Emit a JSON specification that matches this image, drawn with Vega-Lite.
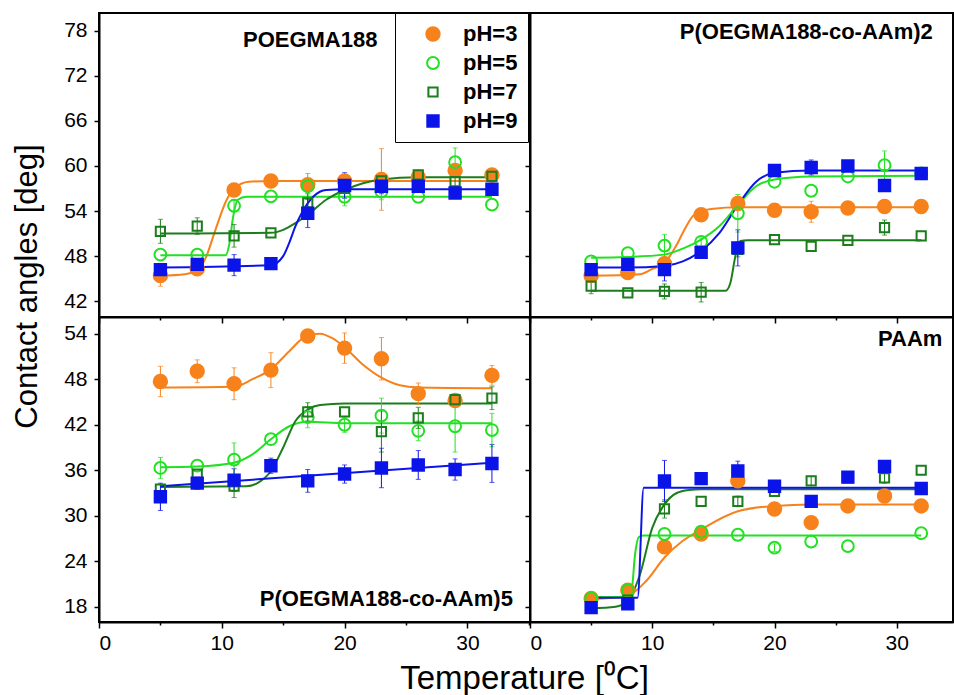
{
  "$schema": "https://vega.github.io/schema/vega-lite/v6.json",
  "padding": {"left": 10, "top": 12, "right": 0, "bottom": 0},
  "background": "white",
  "bounds": "flush",
  "align": "each",
  "spacing": 0,
  "columns": 2,
  "datasets": {
    "pts": [
      {"panel":"A","pH":"pH=3","T":5,"angle":45.4,"err":1.4},
      {"panel":"A","pH":"pH=3","T":8,"angle":46.3,"err":0},
      {"panel":"A","pH":"pH=3","T":11,"angle":56.8,"err":0},
      {"panel":"A","pH":"pH=3","T":14,"angle":58.0,"err":0},
      {"panel":"A","pH":"pH=3","T":17,"angle":57.5,"err":0},
      {"panel":"A","pH":"pH=3","T":20,"angle":58.0,"err":0},
      {"panel":"A","pH":"pH=3","T":23,"angle":58.2,"err":4.1},
      {"panel":"A","pH":"pH=3","T":26,"angle":58.5,"err":0},
      {"panel":"A","pH":"pH=3","T":29,"angle":59.4,"err":0.8},
      {"panel":"A","pH":"pH=3","T":32,"angle":58.8,"err":0},
      {"panel":"A","pH":"pH=5","T":5,"angle":48.2,"err":0},
      {"panel":"A","pH":"pH=5","T":8,"angle":48.2,"err":0},
      {"panel":"A","pH":"pH=5","T":11,"angle":54.7,"err":0.8},
      {"panel":"A","pH":"pH=5","T":14,"angle":55.95,"err":0},
      {"panel":"A","pH":"pH=5","T":17,"angle":57.3,"err":1.7},
      {"panel":"A","pH":"pH=5","T":20,"angle":55.9,"err":1.2},
      {"panel":"A","pH":"pH=5","T":23,"angle":56.6,"err":1.1},
      {"panel":"A","pH":"pH=5","T":26,"angle":55.9,"err":0},
      {"panel":"A","pH":"pH=5","T":29,"angle":60.5,"err":1.9},
      {"panel":"A","pH":"pH=5","T":32,"angle":54.85,"err":0},
      {"panel":"A","pH":"pH=7","T":5,"angle":51.3,"err":1.6},
      {"panel":"A","pH":"pH=7","T":8,"angle":52.0,"err":1.1},
      {"panel":"A","pH":"pH=7","T":11,"angle":50.7,"err":1.5},
      {"panel":"A","pH":"pH=7","T":14,"angle":51.1,"err":0},
      {"panel":"A","pH":"pH=7","T":17,"angle":55.1,"err":1.2},
      {"panel":"A","pH":"pH=7","T":20,"angle":57.0,"err":0},
      {"panel":"A","pH":"pH=7","T":23,"angle":58.0,"err":1.1},
      {"panel":"A","pH":"pH=7","T":26,"angle":58.8,"err":0},
      {"panel":"A","pH":"pH=7","T":29,"angle":57.9,"err":1.0},
      {"panel":"A","pH":"pH=7","T":32,"angle":58.6,"err":0},
      {"panel":"A","pH":"pH=9","T":5,"angle":46.2,"err":0},
      {"panel":"A","pH":"pH=9","T":8,"angle":46.9,"err":0},
      {"panel":"A","pH":"pH=9","T":11,"angle":46.8,"err":1.4},
      {"panel":"A","pH":"pH=9","T":14,"angle":47.0,"err":0},
      {"panel":"A","pH":"pH=9","T":17,"angle":53.7,"err":1.9},
      {"panel":"A","pH":"pH=9","T":20,"angle":57.4,"err":1.7},
      {"panel":"A","pH":"pH=9","T":23,"angle":57.3,"err":1.0},
      {"panel":"A","pH":"pH=9","T":26,"angle":57.3,"err":0},
      {"panel":"A","pH":"pH=9","T":29,"angle":56.4,"err":0.6},
      {"panel":"A","pH":"pH=9","T":32,"angle":56.9,"err":0},

      {"panel":"B","pH":"pH=3","T":5,"angle":45.4,"err":0.6},
      {"panel":"B","pH":"pH=3","T":8,"angle":45.8,"err":0.5},
      {"panel":"B","pH":"pH=3","T":11,"angle":47.0,"err":0},
      {"panel":"B","pH":"pH=3","T":14,"angle":53.5,"err":0},
      {"panel":"B","pH":"pH=3","T":17,"angle":55.0,"err":0.6},
      {"panel":"B","pH":"pH=3","T":20,"angle":54.1,"err":0.6},
      {"panel":"B","pH":"pH=3","T":23,"angle":53.9,"err":1.4},
      {"panel":"B","pH":"pH=3","T":26,"angle":54.4,"err":0},
      {"panel":"B","pH":"pH=3","T":29,"angle":54.6,"err":0},
      {"panel":"B","pH":"pH=3","T":32,"angle":54.6,"err":0},
      {"panel":"B","pH":"pH=5","T":5,"angle":47.3,"err":0},
      {"panel":"B","pH":"pH=5","T":8,"angle":48.4,"err":0},
      {"panel":"B","pH":"pH=5","T":11,"angle":49.4,"err":1.5},
      {"panel":"B","pH":"pH=5","T":14,"angle":49.9,"err":0.5},
      {"panel":"B","pH":"pH=5","T":17,"angle":53.7,"err":2.5},
      {"panel":"B","pH":"pH=5","T":20,"angle":57.9,"err":0},
      {"panel":"B","pH":"pH=5","T":23,"angle":56.7,"err":0},
      {"panel":"B","pH":"pH=5","T":26,"angle":58.6,"err":0},
      {"panel":"B","pH":"pH=5","T":29,"angle":60.1,"err":1.9},
      {"panel":"B","pH":"pH=5","T":32,"angle":59.0,"err":0},
      {"panel":"B","pH":"pH=7","T":5,"angle":44.0,"err":1.0},
      {"panel":"B","pH":"pH=7","T":8,"angle":43.1,"err":0},
      {"panel":"B","pH":"pH=7","T":11,"angle":43.3,"err":1.0},
      {"panel":"B","pH":"pH=7","T":14,"angle":43.2,"err":1.3},
      {"panel":"B","pH":"pH=7","T":17,"angle":48.9,"err":1.0},
      {"panel":"B","pH":"pH=7","T":20,"angle":50.2,"err":0},
      {"panel":"B","pH":"pH=7","T":23,"angle":49.3,"err":0},
      {"panel":"B","pH":"pH=7","T":26,"angle":50.1,"err":0},
      {"panel":"B","pH":"pH=7","T":29,"angle":51.8,"err":1.0},
      {"panel":"B","pH":"pH=7","T":32,"angle":50.7,"err":0},
      {"panel":"B","pH":"pH=9","T":5,"angle":46.2,"err":0.7},
      {"panel":"B","pH":"pH=9","T":8,"angle":46.9,"err":0},
      {"panel":"B","pH":"pH=9","T":11,"angle":46.2,"err":1.5},
      {"panel":"B","pH":"pH=9","T":14,"angle":48.5,"err":0},
      {"panel":"B","pH":"pH=9","T":17,"angle":49.1,"err":2.4},
      {"panel":"B","pH":"pH=9","T":20,"angle":59.4,"err":0},
      {"panel":"B","pH":"pH=9","T":23,"angle":59.8,"err":1.0},
      {"panel":"B","pH":"pH=9","T":26,"angle":60.0,"err":0},
      {"panel":"B","pH":"pH=9","T":29,"angle":57.4,"err":0},
      {"panel":"B","pH":"pH=9","T":32,"angle":59.0,"err":0},

      {"panel":"C","pH":"pH=3","T":5,"angle":47.7,"err":2.0},
      {"panel":"C","pH":"pH=3","T":8,"angle":49.05,"err":1.5},
      {"panel":"C","pH":"pH=3","T":11,"angle":47.4,"err":2.1},
      {"panel":"C","pH":"pH=3","T":14,"angle":49.2,"err":2.3},
      {"panel":"C","pH":"pH=3","T":17,"angle":53.7,"err":0.3},
      {"panel":"C","pH":"pH=3","T":20,"angle":52.1,"err":2.0},
      {"panel":"C","pH":"pH=3","T":23,"angle":50.7,"err":2.8},
      {"panel":"C","pH":"pH=3","T":26,"angle":46.1,"err":1.4},
      {"panel":"C","pH":"pH=3","T":29,"angle":45.2,"err":0},
      {"panel":"C","pH":"pH=3","T":32,"angle":48.5,"err":1.3},
      {"panel":"C","pH":"pH=5","T":5,"angle":36.3,"err":1.4},
      {"panel":"C","pH":"pH=5","T":8,"angle":36.6,"err":0},
      {"panel":"C","pH":"pH=5","T":11,"angle":37.4,"err":2.2},
      {"panel":"C","pH":"pH=5","T":14,"angle":40.1,"err":0},
      {"panel":"C","pH":"pH=5","T":17,"angle":43.0,"err":1.4},
      {"panel":"C","pH":"pH=5","T":20,"angle":42.0,"err":1.0},
      {"panel":"C","pH":"pH=5","T":23,"angle":43.2,"err":2.3},
      {"panel":"C","pH":"pH=5","T":26,"angle":41.2,"err":1.3},
      {"panel":"C","pH":"pH=5","T":29,"angle":41.8,"err":3.4},
      {"panel":"C","pH":"pH=5","T":32,"angle":41.3,"err":2.2},
      {"panel":"C","pH":"pH=7","T":5,"angle":33.5,"err":0},
      {"panel":"C","pH":"pH=7","T":8,"angle":35.5,"err":0},
      {"panel":"C","pH":"pH=7","T":11,"angle":33.9,"err":1.5},
      {"panel":"C","pH":"pH=7","T":14,"angle":36.5,"err":0},
      {"panel":"C","pH":"pH=7","T":17,"angle":43.7,"err":1.2},
      {"panel":"C","pH":"pH=7","T":20,"angle":43.7,"err":0},
      {"panel":"C","pH":"pH=7","T":23,"angle":41.1,"err":2.7},
      {"panel":"C","pH":"pH=7","T":26,"angle":42.9,"err":1.4},
      {"panel":"C","pH":"pH=7","T":29,"angle":45.3,"err":0},
      {"panel":"C","pH":"pH=7","T":32,"angle":45.5,"err":1.5},
      {"panel":"C","pH":"pH=9","T":5,"angle":32.5,"err":1.8},
      {"panel":"C","pH":"pH=9","T":8,"angle":34.3,"err":0.8},
      {"panel":"C","pH":"pH=9","T":11,"angle":34.7,"err":1.5},
      {"panel":"C","pH":"pH=9","T":14,"angle":36.6,"err":1.0},
      {"panel":"C","pH":"pH=9","T":17,"angle":34.6,"err":1.5},
      {"panel":"C","pH":"pH=9","T":20,"angle":35.5,"err":1.2},
      {"panel":"C","pH":"pH=9","T":23,"angle":36.3,"err":2.6},
      {"panel":"C","pH":"pH=9","T":26,"angle":36.7,"err":1.9},
      {"panel":"C","pH":"pH=9","T":29,"angle":36.1,"err":1.4},
      {"panel":"C","pH":"pH=9","T":32,"angle":36.9,"err":2.5},

      {"panel":"D","pH":"pH=3","T":5,"angle":19.1,"err":0},
      {"panel":"D","pH":"pH=3","T":8,"angle":20.2,"err":0},
      {"panel":"D","pH":"pH=3","T":11,"angle":25.9,"err":0},
      {"panel":"D","pH":"pH=3","T":14,"angle":27.6,"err":0},
      {"panel":"D","pH":"pH=3","T":17,"angle":34.6,"err":0},
      {"panel":"D","pH":"pH=3","T":20,"angle":30.9,"err":0},
      {"panel":"D","pH":"pH=3","T":23,"angle":29.1,"err":0},
      {"panel":"D","pH":"pH=3","T":26,"angle":31.3,"err":0},
      {"panel":"D","pH":"pH=3","T":29,"angle":32.6,"err":0},
      {"panel":"D","pH":"pH=3","T":32,"angle":31.3,"err":0},
      {"panel":"D","pH":"pH=5","T":5,"angle":19.1,"err":0},
      {"panel":"D","pH":"pH=5","T":8,"angle":20.2,"err":0},
      {"panel":"D","pH":"pH=5","T":11,"angle":27.6,"err":0},
      {"panel":"D","pH":"pH=5","T":14,"angle":27.9,"err":0},
      {"panel":"D","pH":"pH=5","T":17,"angle":27.5,"err":0},
      {"panel":"D","pH":"pH=5","T":20,"angle":25.8,"err":0.5},
      {"panel":"D","pH":"pH=5","T":23,"angle":26.6,"err":0},
      {"panel":"D","pH":"pH=5","T":26,"angle":26.0,"err":0},
      {"panel":"D","pH":"pH=5","T":32,"angle":27.7,"err":0},
      {"panel":"D","pH":"pH=7","T":5,"angle":17.8,"err":0},
      {"panel":"D","pH":"pH=7","T":8,"angle":18.9,"err":0},
      {"panel":"D","pH":"pH=7","T":11,"angle":30.9,"err":1.2},
      {"panel":"D","pH":"pH=7","T":14,"angle":31.9,"err":0},
      {"panel":"D","pH":"pH=7","T":17,"angle":31.9,"err":0.7},
      {"panel":"D","pH":"pH=7","T":20,"angle":33.2,"err":0},
      {"panel":"D","pH":"pH=7","T":23,"angle":34.6,"err":0.6},
      {"panel":"D","pH":"pH=7","T":26,"angle":35.0,"err":0},
      {"panel":"D","pH":"pH=7","T":29,"angle":35.0,"err":0.7},
      {"panel":"D","pH":"pH=7","T":32,"angle":36.0,"err":0},
      {"panel":"D","pH":"pH=9","T":5,"angle":17.9,"err":0},
      {"panel":"D","pH":"pH=9","T":8,"angle":18.4,"err":0},
      {"panel":"D","pH":"pH=9","T":11,"angle":34.6,"err":2.7},
      {"panel":"D","pH":"pH=9","T":14,"angle":34.9,"err":0},
      {"panel":"D","pH":"pH=9","T":17,"angle":35.9,"err":1.3},
      {"panel":"D","pH":"pH=9","T":20,"angle":33.9,"err":0},
      {"panel":"D","pH":"pH=9","T":23,"angle":31.9,"err":0},
      {"panel":"D","pH":"pH=9","T":26,"angle":35.1,"err":0},
      {"panel":"D","pH":"pH=9","T":29,"angle":36.5,"err":0},
      {"panel":"D","pH":"pH=9","T":32,"angle":33.6,"err":0}
    ],
    "fit": [
      {"panel":"A","pH":"pH=3","T":5,"angle":45.4},{"panel":"A","pH":"pH=3","T":7,"angle":45.6},{"panel":"A","pH":"pH=3","T":8,"angle":46.1},{"panel":"A","pH":"pH=3","T":8.7,"angle":47.8},{"panel":"A","pH":"pH=3","T":9.4,"angle":51.1},{"panel":"A","pH":"pH=3","T":10.4,"angle":55.5},{"panel":"A","pH":"pH=3","T":11,"angle":57.0},{"panel":"A","pH":"pH=3","T":12.2,"angle":57.9},{"panel":"A","pH":"pH=3","T":14,"angle":58.0},{"panel":"A","pH":"pH=3","T":32,"angle":58.0},
      {"panel":"A","pH":"pH=5","T":5,"angle":48.1},{"panel":"A","pH":"pH=5","T":10.3,"angle":48.1},{"panel":"A","pH":"pH=5","T":10.6,"angle":49.5},{"panel":"A","pH":"pH=5","T":10.9,"angle":53.0},{"panel":"A","pH":"pH=5","T":11.3,"angle":55.5},{"panel":"A","pH":"pH=5","T":12,"angle":55.9},{"panel":"A","pH":"pH=5","T":32,"angle":55.9},
      {"panel":"A","pH":"pH=7","T":5,"angle":51.0},{"panel":"A","pH":"pH=7","T":14,"angle":51.1},{"panel":"A","pH":"pH=7","T":15,"angle":51.5},{"panel":"A","pH":"pH=7","T":16,"angle":52.4},{"panel":"A","pH":"pH=7","T":17,"angle":53.5},{"panel":"A","pH":"pH=7","T":18.5,"angle":55.5},{"panel":"A","pH":"pH=7","T":20,"angle":56.8},{"panel":"A","pH":"pH=7","T":21.5,"angle":57.7},{"panel":"A","pH":"pH=7","T":23,"angle":58.2},{"panel":"A","pH":"pH=7","T":26,"angle":58.5},{"panel":"A","pH":"pH=7","T":32,"angle":58.5},
      {"panel":"A","pH":"pH=9","T":5,"angle":46.5},{"panel":"A","pH":"pH=9","T":14,"angle":46.8},{"panel":"A","pH":"pH=9","T":15,"angle":48.0},{"panel":"A","pH":"pH=9","T":15.5,"angle":49.8},{"panel":"A","pH":"pH=9","T":16,"angle":52.0},{"panel":"A","pH":"pH=9","T":16.5,"angle":53.7},{"panel":"A","pH":"pH=9","T":17.5,"angle":56.0},{"panel":"A","pH":"pH=9","T":18.5,"angle":56.8},{"panel":"A","pH":"pH=9","T":20,"angle":56.9},{"panel":"A","pH":"pH=9","T":32,"angle":56.9},

      {"panel":"B","pH":"pH=3","T":5,"angle":45.4},{"panel":"B","pH":"pH=3","T":9,"angle":45.6},{"panel":"B","pH":"pH=3","T":10,"angle":46.3},{"panel":"B","pH":"pH=3","T":11,"angle":47.1},{"panel":"B","pH":"pH=3","T":12,"angle":49.5},{"panel":"B","pH":"pH=3","T":12.5,"angle":51.1},{"panel":"B","pH":"pH=3","T":13.3,"angle":53.3},{"panel":"B","pH":"pH=3","T":14,"angle":54.0},{"panel":"B","pH":"pH=3","T":15,"angle":54.3},{"panel":"B","pH":"pH=3","T":17,"angle":54.5},{"panel":"B","pH":"pH=3","T":32,"angle":54.5},
      {"panel":"B","pH":"pH=5","T":5,"angle":47.8},{"panel":"B","pH":"pH=5","T":8,"angle":47.9},{"panel":"B","pH":"pH=5","T":11,"angle":48.2},{"panel":"B","pH":"pH=5","T":12.5,"angle":49.0},{"panel":"B","pH":"pH=5","T":14,"angle":50.2},{"panel":"B","pH":"pH=5","T":15.5,"angle":52.0},{"panel":"B","pH":"pH=5","T":17,"angle":54.8},{"panel":"B","pH":"pH=5","T":18.5,"angle":57.3},{"panel":"B","pH":"pH=5","T":20,"angle":58.2},{"panel":"B","pH":"pH=5","T":23,"angle":58.6},{"panel":"B","pH":"pH=5","T":32,"angle":58.7},
      {"panel":"B","pH":"pH=7","T":5,"angle":43.4},{"panel":"B","pH":"pH=7","T":16,"angle":43.4},{"panel":"B","pH":"pH=7","T":16.4,"angle":44.5},{"panel":"B","pH":"pH=7","T":16.8,"angle":48.0},{"panel":"B","pH":"pH=7","T":17.2,"angle":50.0},{"panel":"B","pH":"pH=7","T":17.8,"angle":50.1},{"panel":"B","pH":"pH=7","T":32,"angle":50.1},
      {"panel":"B","pH":"pH=9","T":5,"angle":46.5},{"panel":"B","pH":"pH=9","T":8,"angle":46.5},{"panel":"B","pH":"pH=9","T":11,"angle":46.7},{"panel":"B","pH":"pH=9","T":12.5,"angle":47.3},{"panel":"B","pH":"pH=9","T":14,"angle":48.7},{"panel":"B","pH":"pH=9","T":15.5,"angle":51.1},{"panel":"B","pH":"pH=9","T":17,"angle":54.8},{"panel":"B","pH":"pH=9","T":18.5,"angle":57.9},{"panel":"B","pH":"pH=9","T":20,"angle":59.1},{"panel":"B","pH":"pH=9","T":23,"angle":59.4},{"panel":"B","pH":"pH=9","T":32,"angle":59.4},

      {"panel":"C","pH":"pH=3","T":5,"angle":46.9},{"panel":"C","pH":"pH=3","T":11,"angle":47.0},{"panel":"C","pH":"pH=3","T":12.5,"angle":48.0},{"panel":"C","pH":"pH=3","T":14,"angle":49.3},{"panel":"C","pH":"pH=3","T":15.5,"angle":51.7},{"panel":"C","pH":"pH=3","T":17,"angle":53.8},{"panel":"C","pH":"pH=3","T":18,"angle":54.0},{"panel":"C","pH":"pH=3","T":19,"angle":53.4},{"panel":"C","pH":"pH=3","T":20,"angle":52.2},{"panel":"C","pH":"pH=3","T":21.5,"angle":49.9},{"panel":"C","pH":"pH=3","T":23,"angle":48.2},{"panel":"C","pH":"pH=3","T":24.5,"angle":47.2},{"panel":"C","pH":"pH=3","T":26,"angle":46.9},{"panel":"C","pH":"pH=3","T":32,"angle":46.8},
      {"panel":"C","pH":"pH=5","T":5,"angle":36.4},{"panel":"C","pH":"pH=5","T":8,"angle":36.5},{"panel":"C","pH":"pH=5","T":11,"angle":37.0},{"panel":"C","pH":"pH=5","T":12.5,"angle":38.1},{"panel":"C","pH":"pH=5","T":14,"angle":40.1},{"panel":"C","pH":"pH=5","T":15.5,"angle":41.8},{"panel":"C","pH":"pH=5","T":17,"angle":42.4},{"panel":"C","pH":"pH=5","T":20,"angle":42.2},{"panel":"C","pH":"pH=5","T":32,"angle":42.2},
      {"panel":"C","pH":"pH=7","T":5,"angle":33.8},{"panel":"C","pH":"pH=7","T":12,"angle":33.9},{"panel":"C","pH":"pH=7","T":13,"angle":34.4},{"panel":"C","pH":"pH=7","T":14,"angle":35.9},{"panel":"C","pH":"pH=7","T":15,"angle":39.0},{"panel":"C","pH":"pH=7","T":16,"angle":42.5},{"panel":"C","pH":"pH=7","T":17,"angle":44.0},{"panel":"C","pH":"pH=7","T":18,"angle":44.6},{"panel":"C","pH":"pH=7","T":20,"angle":44.8},{"panel":"C","pH":"pH=7","T":32,"angle":44.8},
      {"panel":"C","pH":"pH=9","T":5,"angle":33.9},{"panel":"C","pH":"pH=9","T":32,"angle":37.0},

      {"panel":"D","pH":"pH=3","T":5,"angle":19.0},{"panel":"D","pH":"pH=3","T":8,"angle":19.5},{"panel":"D","pH":"pH=3","T":9.5,"angle":21.4},{"panel":"D","pH":"pH=3","T":11,"angle":24.5},{"panel":"D","pH":"pH=3","T":12.5,"angle":26.7},{"panel":"D","pH":"pH=3","T":14,"angle":28.2},{"panel":"D","pH":"pH=3","T":17,"angle":30.6},{"panel":"D","pH":"pH=3","T":20,"angle":31.3},{"panel":"D","pH":"pH=3","T":23,"angle":31.5},{"panel":"D","pH":"pH=3","T":32,"angle":31.5},
      {"panel":"D","pH":"pH=5","T":5,"angle":19.3},{"panel":"D","pH":"pH=5","T":8,"angle":19.3},{"panel":"D","pH":"pH=5","T":8.3,"angle":20.0},{"panel":"D","pH":"pH=5","T":8.6,"angle":25.0},{"panel":"D","pH":"pH=5","T":8.9,"angle":27.2},{"panel":"D","pH":"pH=5","T":9.3,"angle":27.4},{"panel":"D","pH":"pH=5","T":32,"angle":27.4},
      {"panel":"D","pH":"pH=7","T":5,"angle":17.8},{"panel":"D","pH":"pH=7","T":7,"angle":18.0},{"panel":"D","pH":"pH=7","T":8,"angle":18.8},{"panel":"D","pH":"pH=7","T":9,"angle":22.3},{"panel":"D","pH":"pH=7","T":10,"angle":28.4},{"panel":"D","pH":"pH=7","T":11,"angle":31.5},{"panel":"D","pH":"pH=7","T":12,"angle":33.0},{"panel":"D","pH":"pH=7","T":13,"angle":33.4},{"panel":"D","pH":"pH=7","T":14,"angle":33.5},{"panel":"D","pH":"pH=7","T":32,"angle":33.5},
      {"panel":"D","pH":"pH=9","T":5,"angle":19.2},{"panel":"D","pH":"pH=9","T":8.8,"angle":19.2},{"panel":"D","pH":"pH=9","T":9.3,"angle":33.7},{"panel":"D","pH":"pH=9","T":32,"angle":33.7}
    ]
  },
  "concat": [
    {
      "width": 431, "height": 304,
      "layer": [
        {"data": {"name": "fit"}, "transform": [{"filter": "datum.panel === 'A'"}],
         "mark": {"type": "line", "interpolate": "monotone", "strokeWidth": 2},
         "encoding": {
           "x": {"field": "T", "type": "quantitative", "scale": {"domain": [0, 35.1], "nice": false, "zero": false},
                 "axis": {"values": [0,5,10,15,20,25,30,35], "labels": false, "title": null,
                          "tickSize": {"condition": {"test": "datum.value % 10 === 0", "value": 6}, "value": 3}}},
           "y": {"field": "angle", "type": "quantitative", "title": "Contact angles [deg]", "scale": {"domain": [39.9, 80.35], "nice": false, "zero": false},
                 "axis": {"values": [42,45,48,51,54,57,60,63,66,69,72,75,78],
                          "labelExpr": "datum.value % 6 === 0 ? datum.label : ''",
                          "tickSize": {"condition": {"test": "datum.value % 6 === 0", "value": 5}, "value": 3},
                          "title": "Contact angles [deg]", "titleX": -63, "titleY": 273, "titleAlign": "center", "titleBaseline": "alphabetic", "titleAngle": -90}},
           "color": {"field": "pH", "type": "nominal", "legend": null, "scale": {"domain": ["pH=9","pH=7","pH=5","pH=3"], "range": ["#0B14E8","#1B7D1B","#22E022","#F7821B"]}}}},
        {"data": {"name": "pts"}, "transform": [{"filter": "datum.panel === 'A' && datum.err > 0"}],
         "mark": {"type": "errorbar", "ticks": true, "thickness": 1},
         "encoding": {"x": {"field": "T", "type": "quantitative", "title": null}, "y": {"field": "angle", "type": "quantitative", "title": "Contact angles [deg]"},
                      "yError": {"field": "err"}, "color": {"field": "pH", "type": "nominal", "legend": null}}},
        {"data": {"name": "pts"}, "transform": [{"filter": "datum.panel === 'A'"}],
         "mark": {"type": "point", "strokeWidth": 2, "opacity": 1},
         "encoding": {
           "x": {"field": "T", "type": "quantitative", "title": null}, "y": {"field": "angle", "type": "quantitative", "title": "Contact angles [deg]"},
           "shape": {"field": "pH", "type": "nominal", "legend": {"title": null}, "scale": {"domain": ["pH=3","pH=5","pH=7","pH=9"], "range": ["circle","circle","square","square"]}},
           "stroke": {"field": "pH", "type": "nominal", "legend": {"title": null}, "scale": {"domain": ["pH=3","pH=5","pH=7","pH=9"], "range": ["#F7821B","#22E022","#1B7D1B","#0B14E8"]}},
           "fill": {"field": "pH", "type": "nominal", "legend": {"title": null}, "scale": {"domain": ["pH=3","pH=5","pH=7","pH=9"], "range": ["#F7821B","transparent","transparent","#0B14E8"]}},
           "size": {"field": "pH", "type": "nominal", "legend": {"title": null}, "scale": {"type": "ordinal", "domain": ["pH=3","pH=5","pH=7","pH=9"], "range": [180, 140, 85, 130]}}}},
        {"data": {"values": [{"label": "POEGMA188"}]},
         "mark": {"type": "text", "font": "Liberation Sans", "fontSize": 22, "fontWeight": "bold", "align": "center", "baseline": "middle", "fill": "black"},
         "encoding": {"x": {"datum": 17.2}, "y": {"datum": 76.7}, "text": {"field": "label", "type": "nominal"}}}
      ]
    },
    {
      "width": 423, "height": 304,
      "layer": [
        {"data": {"name": "fit"}, "transform": [{"filter": "datum.panel === 'B'"}],
         "mark": {"type": "line", "interpolate": "monotone", "strokeWidth": 2},
         "encoding": {
           "x": {"field": "T", "type": "quantitative", "scale": {"domain": [0, 34.6], "nice": false, "zero": false},
                 "axis": {"values": [0,5,10,15,20,25,30], "labels": false, "title": null,
                          "tickSize": {"condition": {"test": "datum.value % 10 === 0", "value": 6}, "value": 3}}},
           "y": {"field": "angle", "type": "quantitative", "scale": {"domain": [39.9, 80.35], "nice": false, "zero": false},
                 "axis": {"values": [42,45,48,51,54,57,60,63,66,69,72,75,78], "labels": false, "title": null,
                          "tickSize": {"condition": {"test": "datum.value % 6 === 0", "value": 5}, "value": 3}}},
           "color": {"field": "pH", "type": "nominal", "legend": null, "scale": {"domain": ["pH=9","pH=7","pH=5","pH=3"], "range": ["#0B14E8","#1B7D1B","#22E022","#F7821B"]}}}},
        {"data": {"name": "pts"}, "transform": [{"filter": "datum.panel === 'B' && datum.err > 0"}],
         "mark": {"type": "errorbar", "ticks": true, "thickness": 1},
         "encoding": {"x": {"field": "T", "type": "quantitative"}, "y": {"field": "angle", "type": "quantitative"},
                      "yError": {"field": "err"}, "color": {"field": "pH", "type": "nominal", "legend": null}}},
        {"data": {"name": "pts"}, "transform": [{"filter": "datum.panel === 'B'"}],
         "mark": {"type": "point", "strokeWidth": 2, "opacity": 1},
         "encoding": {
           "x": {"field": "T", "type": "quantitative"}, "y": {"field": "angle", "type": "quantitative"},
           "shape": {"field": "pH", "type": "nominal", "legend": {"title": null}, "scale": {"domain": ["pH=3","pH=5","pH=7","pH=9"], "range": ["circle","circle","square","square"]}},
           "stroke": {"field": "pH", "type": "nominal", "legend": {"title": null}, "scale": {"domain": ["pH=3","pH=5","pH=7","pH=9"], "range": ["#F7821B","#22E022","#1B7D1B","#0B14E8"]}},
           "fill": {"field": "pH", "type": "nominal", "legend": {"title": null}, "scale": {"domain": ["pH=3","pH=5","pH=7","pH=9"], "range": ["#F7821B","transparent","transparent","#0B14E8"]}},
           "size": {"field": "pH", "type": "nominal", "legend": {"title": null}, "scale": {"type": "ordinal", "domain": ["pH=3","pH=5","pH=7","pH=9"], "range": [180, 140, 85, 130]}}}},
        {"data": {"values": [{"label": "P(OEGMA188-co-AAm)2"}]},
         "mark": {"type": "text", "font": "Liberation Sans", "fontSize": 22, "fontWeight": "bold", "align": "center", "baseline": "middle", "fill": "black"},
         "encoding": {"x": {"datum": 22.6}, "y": {"datum": 77.8}, "text": {"field": "label", "type": "nominal"}}}
      ]
    },
    {
      "width": 431, "height": 305,
      "layer": [
        {"data": {"name": "fit"}, "transform": [{"filter": "datum.panel === 'C'"}],
         "mark": {"type": "line", "interpolate": "monotone", "strokeWidth": 2},
         "encoding": {
           "x": {"field": "T", "type": "quantitative", "scale": {"domain": [0, 35.1], "nice": false, "zero": false},
                 "axis": {"values": [0,5,10,15,20,25,30,35],
                          "labelExpr": "datum.value % 10 === 0 ? datum.label : ''",
                          "tickSize": {"condition": {"test": "datum.value % 10 === 0", "value": 6}, "value": 3},
                          "title": "Temperature [⁰C]", "titleFontSize": 33, "titleX": 425, "titleY": 66, "titleAlign": "center", "titleBaseline": "alphabetic"}},
           "y": {"field": "angle", "type": "quantitative", "scale": {"domain": [16, 56.2], "nice": false, "zero": false},
                 "axis": {"values": [18,21,24,27,30,33,36,39,42,45,48,51,54],
                          "labelExpr": "datum.value % 6 === 0 ? datum.label : ''",
                          "tickSize": {"condition": {"test": "datum.value % 6 === 0", "value": 5}, "value": 3},
                          "title": null}},
           "color": {"field": "pH", "type": "nominal", "legend": null, "scale": {"domain": ["pH=9","pH=7","pH=5","pH=3"], "range": ["#0B14E8","#1B7D1B","#22E022","#F7821B"]}}}},
        {"data": {"name": "pts"}, "transform": [{"filter": "datum.panel === 'C' && datum.err > 0"}],
         "mark": {"type": "errorbar", "ticks": true, "thickness": 1},
         "encoding": {"x": {"field": "T", "type": "quantitative"}, "y": {"field": "angle", "type": "quantitative"},
                      "yError": {"field": "err"}, "color": {"field": "pH", "type": "nominal", "legend": null}}},
        {"data": {"name": "pts"}, "transform": [{"filter": "datum.panel === 'C'"}],
         "mark": {"type": "point", "strokeWidth": 2, "opacity": 1},
         "encoding": {
           "x": {"field": "T", "type": "quantitative"}, "y": {"field": "angle", "type": "quantitative"},
           "shape": {"field": "pH", "type": "nominal", "legend": {"title": null}, "scale": {"domain": ["pH=3","pH=5","pH=7","pH=9"], "range": ["circle","circle","square","square"]}},
           "stroke": {"field": "pH", "type": "nominal", "legend": {"title": null}, "scale": {"domain": ["pH=3","pH=5","pH=7","pH=9"], "range": ["#F7821B","#22E022","#1B7D1B","#0B14E8"]}},
           "fill": {"field": "pH", "type": "nominal", "legend": {"title": null}, "scale": {"domain": ["pH=3","pH=5","pH=7","pH=9"], "range": ["#F7821B","transparent","transparent","#0B14E8"]}},
           "size": {"field": "pH", "type": "nominal", "legend": {"title": null}, "scale": {"type": "ordinal", "domain": ["pH=3","pH=5","pH=7","pH=9"], "range": [180, 140, 85, 130]}}}},
        {"data": {"values": [{"label": "P(OEGMA188-co-AAm)5"}]},
         "mark": {"type": "text", "font": "Liberation Sans", "fontSize": 22, "fontWeight": "bold", "align": "center", "baseline": "middle", "fill": "black"},
         "encoding": {"x": {"datum": 23.4}, "y": {"datum": 19.0}, "text": {"field": "label", "type": "nominal"}}}
      ]
    },
    {
      "width": 423, "height": 305,
      "layer": [
        {"data": {"name": "fit"}, "transform": [{"filter": "datum.panel === 'D'"}],
         "mark": {"type": "line", "interpolate": "monotone", "strokeWidth": 2},
         "encoding": {
           "x": {"field": "T", "type": "quantitative", "scale": {"domain": [0, 34.6], "nice": false, "zero": false},
                 "axis": {"values": [0,5,10,15,20,25,30],
                          "labelExpr": "datum.value % 10 === 0 ? datum.label : ''",
                          "tickSize": {"condition": {"test": "datum.value % 10 === 0", "value": 6}, "value": 3},
                          "title": null}},
           "y": {"field": "angle", "type": "quantitative", "scale": {"domain": [16, 56.2], "nice": false, "zero": false},
                 "axis": {"values": [18,21,24,27,30,33,36,39,42,45,48,51,54], "labels": false, "title": null,
                          "tickSize": {"condition": {"test": "datum.value % 6 === 0", "value": 5}, "value": 3}}},
           "color": {"field": "pH", "type": "nominal", "legend": null, "scale": {"domain": ["pH=9","pH=7","pH=5","pH=3"], "range": ["#0B14E8","#1B7D1B","#22E022","#F7821B"]}}}},
        {"data": {"name": "pts"}, "transform": [{"filter": "datum.panel === 'D' && datum.err > 0"}],
         "mark": {"type": "errorbar", "ticks": true, "thickness": 1},
         "encoding": {"x": {"field": "T", "type": "quantitative"}, "y": {"field": "angle", "type": "quantitative"},
                      "yError": {"field": "err"}, "color": {"field": "pH", "type": "nominal", "legend": null}}},
        {"data": {"name": "pts"}, "transform": [{"filter": "datum.panel === 'D'"}],
         "mark": {"type": "point", "strokeWidth": 2, "opacity": 1},
         "encoding": {
           "x": {"field": "T", "type": "quantitative"}, "y": {"field": "angle", "type": "quantitative"},
           "shape": {"field": "pH", "type": "nominal", "legend": {"title": null}, "scale": {"domain": ["pH=3","pH=5","pH=7","pH=9"], "range": ["circle","circle","square","square"]}},
           "stroke": {"field": "pH", "type": "nominal", "legend": {"title": null}, "scale": {"domain": ["pH=3","pH=5","pH=7","pH=9"], "range": ["#F7821B","#22E022","#1B7D1B","#0B14E8"]}},
           "fill": {"field": "pH", "type": "nominal", "legend": {"title": null}, "scale": {"domain": ["pH=3","pH=5","pH=7","pH=9"], "range": ["#F7821B","transparent","transparent","#0B14E8"]}},
           "size": {"field": "pH", "type": "nominal", "legend": {"title": null}, "scale": {"type": "ordinal", "domain": ["pH=3","pH=5","pH=7","pH=9"], "range": [180, 140, 85, 130]}}}},
        {"data": {"values": [{"label": "PAAm"}]},
         "mark": {"type": "text", "font": "Liberation Sans", "fontSize": 22, "fontWeight": "bold", "align": "center", "baseline": "middle", "fill": "black"},
         "encoding": {"x": {"datum": 31.1}, "y": {"datum": 53.35}, "text": {"field": "label", "type": "nominal"}}}
      ]
    }
  ],
  "resolve": {"scale": {"stroke": "shared", "fill": "shared", "shape": "shared", "size": "shared", "color": "shared"}},
  "config": {
    "font": "Liberation Sans",
    "view": {"stroke": "black", "strokeWidth": 2},
    "axis": {
      "grid": false, "domainColor": "black", "domainWidth": 2, "tickColor": "black", "tickWidth": 1.5,
      "labelFont": "Liberation Sans", "labelFontSize": 21, "labelColor": "black", "labelPadding": 4,
      "titleFont": "Liberation Sans", "titleFontSize": 31, "titleFontWeight": "normal", "titleColor": "black"
    },
    "axisY": {"labelPadding": 7},
    "legend": {
      "orient": "none", "legendX": 296, "legendY": 0,
      "strokeColor": "black", "fillColor": "white", "padding": 10, "cornerRadius": 0,
      "labelFont": "Liberation Sans", "labelFontSize": 22, "labelFontWeight": "bold", "labelColor": "black",
      "symbolStrokeWidth": 2, "rowPadding": 7, "symbolOffset": 17, "labelOffset": 19
    }
  }
}
